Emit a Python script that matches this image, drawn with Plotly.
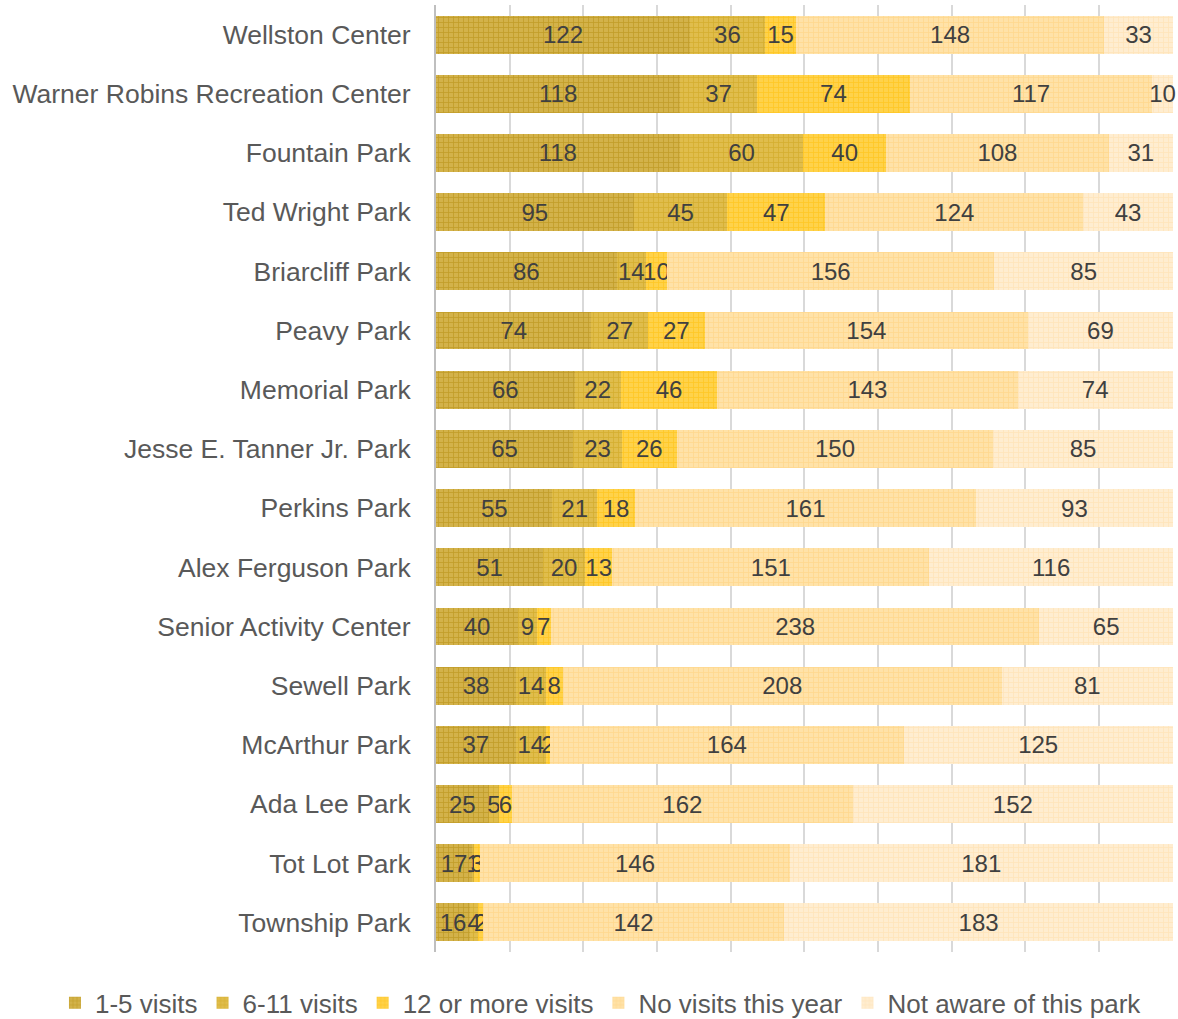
import plotly.graph_objects as go

parks = [
    "Wellston Center", "Warner Robins Recreation Center", "Fountain Park", "Ted Wright Park",
    "Briarcliff Park", "Peavy Park", "Memorial Park", "Jesse E. Tanner Jr. Park",
    "Perkins Park", "Alex Ferguson Park", "Senior Activity Center", "Sewell Park",
    "McArthur Park", "Ada Lee Park", "Tot Lot Park", "Township Park",
]
visits_1_5 = [122, 118, 118, 95, 86, 74, 66, 65, 55, 51, 40, 38, 37, 25, 17, 16]
visits_6_11 = [36, 37, 60, 45, 14, 27, 22, 23, 21, 20, 9, 14, 14, 5, 1, 4]
visits_12_plus = [15, 74, 40, 47, 10, 27, 46, 26, 18, 13, 7, 8, 2, 6, 3, 2]
no_visits = [148, 117, 108, 124, 156, 154, 143, 150, 161, 151, 238, 208, 164, 162, 146, 142]
not_aware = [33, 10, 31, 43, 85, 69, 74, 85, 93, 116, 65, 81, 125, 152, 181, 183]

series = [
    ("1-5 visits", visits_1_5, "#D3B24A", "#B08806"),
    ("6-11 visits", visits_6_11, "#E0BD4C", "#C99E12"),
    ("12 or more visits", visits_12_plus, "#FFD24A", "#FFBC00"),
    ("No visits this year", no_visits, "#FFE2A8", "#FFCD75"),
    ("Not aware of this park", not_aware, "#FFEDD0", "#FFDCA3"),
]

FONT = "Liberation Sans, Arial, sans-serif"

fig = go.Figure()
for name, vals, base, fg in series:
    fig.add_trace(go.Bar(
        name=name, y=parks, x=vals, orientation="h",
        marker=dict(color=base, line=dict(width=0),
                    pattern=dict(shape="+", size=5, solidity=0.3, fgcolor=fg, fillmode="overlay")),
        text=[str(v) for v in vals], textposition="inside", insidetextanchor="middle",
        constraintext="none", textangle=0,
        textfont=dict(color="#404040", size=24, family=FONT),
        cliponaxis=False,
    ))

fig.update_layout(
    barmode="stack", barnorm="percent", bargap=0.36,
    width=1178, height=1019,
    margin=dict(l=436, r=5, t=5, b=67, autoexpand=False),
    paper_bgcolor="white", plot_bgcolor="white",
    font=dict(family=FONT, color="#595959", size=26),
    legend=dict(orientation="h", xref="paper", yref="paper", x=-0.517, xanchor="left",
                y=-0.029, yanchor="top", font=dict(size=26, color="#595959"),
                itemwidth=30, traceorder="normal", bgcolor="rgba(0,0,0,0)"),
    showlegend=True,
)
fig.update_xaxes(range=[0, 100.02], tick0=0, dtick=10, showticklabels=False, showgrid=True,
                 gridcolor="#D9D9D9", gridwidth=1.5, zeroline=False, showline=False,
                 fixedrange=True, automargin=False)
fig.update_yaxes(autorange="reversed", showline=True, linecolor="#BFBFBF", linewidth=2,
                 ticks="", ticklabelstandoff=18, tickfont=dict(size=26.5, color="#595959"),
                 showgrid=False, automargin=False, fixedrange=True)

fig.write_html("out.html", config={"displayModeBar": False},
               post_script="document.body.style.margin='0';")
